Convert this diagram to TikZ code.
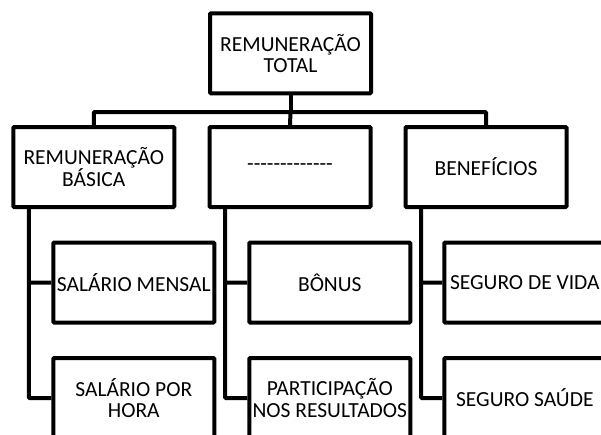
\documentclass[tikz,border=0pt]{standalone}
\usepackage{fontspec}
\setmainfont{Carlito}
\begin{document}
\begin{tikzpicture}[x=1pt,y=-1pt,
  box/.style={draw,line width=4pt,rounded corners=1pt,minimum width=161pt,minimum height=80pt,inner sep=0pt,align=center,font=\fontsize{21.5pt}{21.5pt}\selectfont},
  link/.style={line width=4pt,rounded corners=1pt}]
\useasboundingbox (0,0) rectangle (601,434);
\node[box] (top) at (290.5,53.3) {REMUNERAÇÃO\\TOTAL};
\node[box] (basica) at (93.8,167) {REMUNERAÇÃO\\BÁSICA};
\node[box] (outro) at (290,167) {\foreach \d in {1,...,13}{-\kern0pt}};
\node[box] (beneficios) at (486,167) {BENEFÍCIOS};
\node[box] (mensal) at (133.8,282.5) {SALÁRIO MENSAL};
\node[box] (hora) at (133.8,398) {SALÁRIO POR\\HORA};
\node[box] (bonus) at (329.8,282.5) {BÔNUS};
\node[box] (participacao) at (329.8,398) {PARTICIPAÇÃO\\NOS RESULTADOS};
\node[box] (vida) at (524.8,282.5) {SEGURO DE VIDA};
\node[box] (saude) at (524.8,398) {SEGURO SAÚDE};
\draw[link] (top.south) -- ++(0,16.7) coordinate (bus);
\draw[link] (basica.north) |- (bus) -| (beneficios.north);
\draw[link] (bus) -- (outro.north);
\foreach \p/\a/\b in {basica/mensal/hora,outro/bonus/participacao,beneficios/vida/saude}
  \draw[link] ([xshift=17.5pt]\p.south west) |- (\a.west) ([xshift=17.5pt]\p.south west) |- (\b.west);
\end{tikzpicture}
\end{document}
